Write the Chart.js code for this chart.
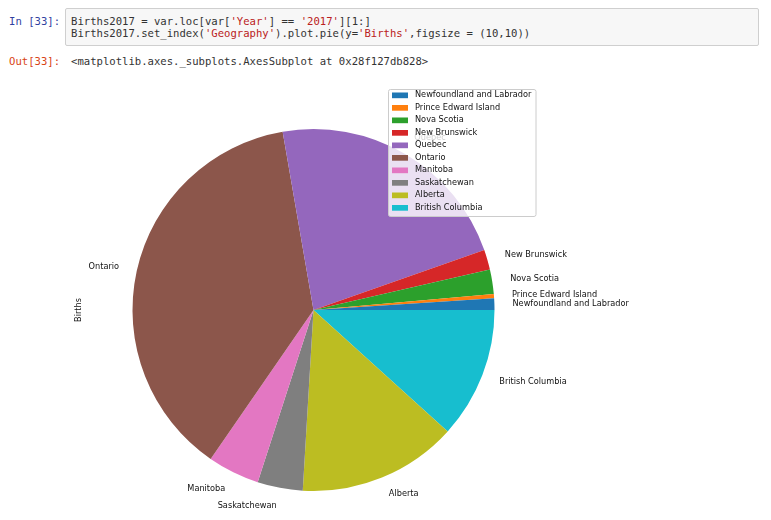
<!DOCTYPE html>
<html>
<head>
<meta charset="utf-8">
<script src="https://cdn.jsdelivr.net/npm/chart.js@4/dist/chart.umd.min.js"></script>
<style>
  html, body { margin: 0; padding: 0; background: #fff; width: 771px; height: 520px; overflow: hidden; }
  .mono { font-family: "DejaVu Sans Mono", "Liberation Mono", monospace; font-size: 10.6px; white-space: pre; position: absolute; line-height: 12.3px; }
  #inPrompt { left: 9px; top: 15px; color: #303F9F; }
  #outPrompt { left: 9px; top: 55px; color: #D84315; }
  #codeBox { position: absolute; left: 65px; top: 8px; width: 694px; height: 38px; background: #f7f7f7; border: 1px solid #cfcfcf; border-radius: 2px; box-sizing: border-box; }
  #code { left: 71px; top: 15px; color: #333; }
  #outText { left: 71px; top: 55px; color: #333; }
  .str { color: #BA2121; }
  #chartWrap { position: absolute; left: 0; top: 70px; width: 771px; height: 450px; }
</style>
</head>
<body>
<div id="inPrompt" class="mono">In [33]:</div>
<div id="codeBox"></div>
<div id="code" class="mono">Births2017 = var.loc[var[<span class="str">'Year'</span>] == <span class="str">'2017'</span>][1:]
Births2017.set_index(<span class="str">'Geography'</span>).plot.pie(y=<span class="str">'Births'</span>,figsize = (10,10))</div>
<div id="outPrompt" class="mono">Out[33]:</div>
<div id="outText" class="mono">&lt;matplotlib.axes._subplots.AxesSubplot at 0x28f127db828&gt;</div>
<div id="chartWrap"><canvas id="c" width="771" height="450"></canvas></div>
<script>
// ---- data (natural matplotlib order, counter-clockwise from 3 o'clock) ----
const categories = ["Newfoundland and Labrador", "Prince Edward Island", "Nova Scotia", "New Brunswick",
  "Quebec", "Ontario", "Manitoba", "Saskatchewan", "Alberta", "British Columbia"];
const births = [3900, 1400, 8200, 6700, 84000, 141500, 17400, 15200, 53500, 44000];
const colors = ["#1f77b4", "#ff7f0e", "#2ca02c", "#d62728", "#9467bd",
  "#8c564b", "#e377c2", "#7f7f7f", "#bcbd22", "#17becf"];
const yLabel = "Births";

// Chart.js draws clockwise; reverse so the pie runs counter-clockwise like matplotlib
const idx = categories.map((_, i) => categories.length - 1 - i);

const LABEL_FONT = '8.2px "DejaVu Sans"';

const piePlugin = {
  id: 'mplPie',
  afterDatasetsDraw(chart) {
    const ctx = chart.ctx;
    const meta = chart.getDatasetMeta(0);
    ctx.save();
    ctx.font = LABEL_FONT;
    ctx.fillStyle = '#111';
    ctx.textBaseline = 'middle';
    meta.data.forEach((arc, j) => {
      const mid = (arc.startAngle + arc.endAngle) / 2;
      const r = arc.outerRadius * 1.1;
      const x = arc.x + r * Math.cos(mid);
      const y = arc.y + r * Math.sin(mid);
      ctx.textAlign = Math.cos(mid) > 0 ? 'left' : 'right';
      ctx.fillText(chart.data.labels[j], x, y);
    });
    // y axis label
    const a = meta.data[0];
    ctx.translate(a.x - 234.5, a.y);
    ctx.rotate(-Math.PI / 2);
    ctx.textAlign = 'center';
    ctx.fillText(yLabel, 0, 0);
    ctx.restore();
  },
  afterDraw(chart) {
    const ctx = chart.ctx;
    ctx.save();
    const bx = 388.5, by = 19.5, bw = 147.5, bh = 127;
    ctx.fillStyle = 'rgba(255,255,255,0.8)';
    ctx.strokeStyle = '#cccccc';
    ctx.lineWidth = 1;
    ctx.beginPath();
    ctx.roundRect(bx, by, bw, bh, 2);
    ctx.fill();
    ctx.stroke();
    ctx.font = LABEL_FONT;
    ctx.textAlign = 'left';
    ctx.textBaseline = 'middle';
    categories.forEach((name, i) => {
      const cy = 25.3 + i * 12.5;
      ctx.fillStyle = colors[i];
      ctx.fillRect(392, cy - 2.8, 16, 5.7);
      ctx.fillStyle = '#111';
      ctx.fillText(name, 415, cy);
    });
    ctx.restore();
  }
};

new Chart(document.getElementById('c'), {
  type: 'pie',
  data: {
    labels: idx.map(i => categories[i]),
    datasets: [{
      data: idx.map(i => births[i]),
      backgroundColor: idx.map(i => colors[i]),
      borderWidth: 0
    }]
  },
  options: {
    responsive: false,
    animation: false,
    rotation: 90,
    layout: { padding: { left: 132.5, right: 276.5, top: 59, bottom: 29 } },
    plugins: { legend: { display: false }, tooltip: { enabled: false } }
  },
  plugins: [piePlugin]
});
</script>
</body>
</html>
